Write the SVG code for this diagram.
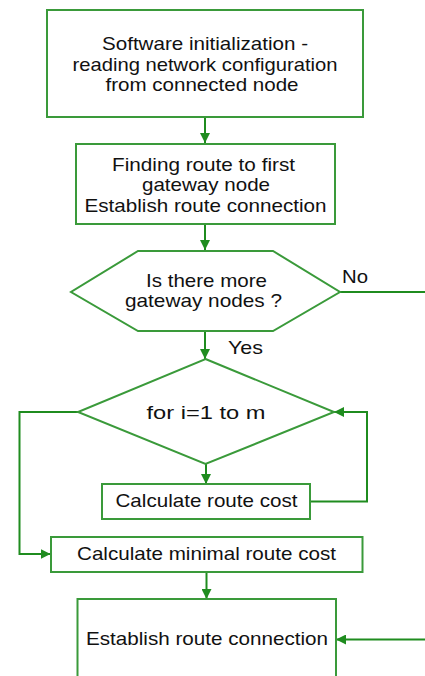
<svg xmlns="http://www.w3.org/2000/svg" width="425" height="676" viewBox="0 0 425 676">
<style>
.box{fill:#fff;stroke:#3a9a3a;stroke-width:2}
.ln{fill:none;stroke:#1f8c1f;stroke-width:2}
text{font-family:"Liberation Sans",Arial,sans-serif;font-size:18.5px;fill:#111;text-anchor:middle}
</style>
<defs>
<marker id="ah" viewBox="0 0 10 10" refX="10" refY="5" markerWidth="10" markerHeight="10" markerUnits="userSpaceOnUse" orient="auto">
<path d="M0,0 L10,5 L0,10 z" fill="#1f8c1f"/>
</marker>
</defs>
<rect width="425" height="676" fill="#fff"/>
<g id="connectors">
<path class="ln" d="M205,117 V143" marker-end="url(#ah)"/>
<path class="ln" d="M205,224 V250" marker-end="url(#ah)"/>
<path class="ln" d="M340,292 H425"/>
<path class="ln" d="M205,331 V359" marker-end="url(#ah)"/>
<path class="ln" d="M206,464 V484" marker-end="url(#ah)"/>
<path class="ln" d="M310,501.5 H367 V412 H334" marker-end="url(#ah)"/>
<path class="ln" d="M78,412 H19.5 V554 H50.5" marker-end="url(#ah)"/>
<path class="ln" d="M206.5,572 V599" marker-end="url(#ah)"/>
<path class="ln" d="M425,639.5 H336" marker-end="url(#ah)"/>
</g>
<g id="init">
<rect class="box" x="47" y="10" width="316" height="107"/>
<text x="205" y="50" textLength="206" lengthAdjust="spacingAndGlyphs">Software initialization -</text>
<text x="205" y="71" textLength="265" lengthAdjust="spacingAndGlyphs">reading network configuration</text>
<text x="202" y="91" textLength="193" lengthAdjust="spacingAndGlyphs">from connected node</text>
</g>
<g id="find">
<rect class="box" x="76" y="144" width="259" height="80"/>
<text x="203.5" y="171" textLength="183" lengthAdjust="spacingAndGlyphs">Finding route to first</text>
<text x="206" y="191" textLength="128" lengthAdjust="spacingAndGlyphs">gateway node</text>
<text x="205.5" y="212" textLength="242" lengthAdjust="spacingAndGlyphs">Establish route connection</text>
</g>
<g id="more">
<polygon class="box" points="138,251 273,251 340,292 273,331 138,331 71,292"/>
<text x="206.5" y="287" textLength="121" lengthAdjust="spacingAndGlyphs">Is there more</text>
<text x="203.5" y="307" textLength="157" lengthAdjust="spacingAndGlyphs">gateway nodes ?</text>
<text x="355" y="283" textLength="26" lengthAdjust="spacingAndGlyphs">No</text>
<text x="245.5" y="354" textLength="35" lengthAdjust="spacingAndGlyphs">Yes</text>
</g>
<g id="loop">
<polygon class="box" points="205.5,359 334,412 205.5,464 78,412"/>
<text x="206" y="419" textLength="119" lengthAdjust="spacingAndGlyphs">for i=1 to m</text>
</g>
<g id="cost">
<rect class="box" x="102" y="484" width="208" height="35"/>
<text x="206.5" y="507" textLength="182" lengthAdjust="spacingAndGlyphs">Calculate route cost</text>
</g>
<g id="mincost">
<rect class="box" x="51" y="537" width="311.5" height="35"/>
<text x="206.5" y="560" textLength="259" lengthAdjust="spacingAndGlyphs">Calculate minimal route cost</text>
</g>
<g id="establish">
<rect class="box" x="77.5" y="599" width="258.5" height="90"/>
<text x="207" y="645" textLength="242" lengthAdjust="spacingAndGlyphs">Establish route connection</text>
</g>
</svg>
